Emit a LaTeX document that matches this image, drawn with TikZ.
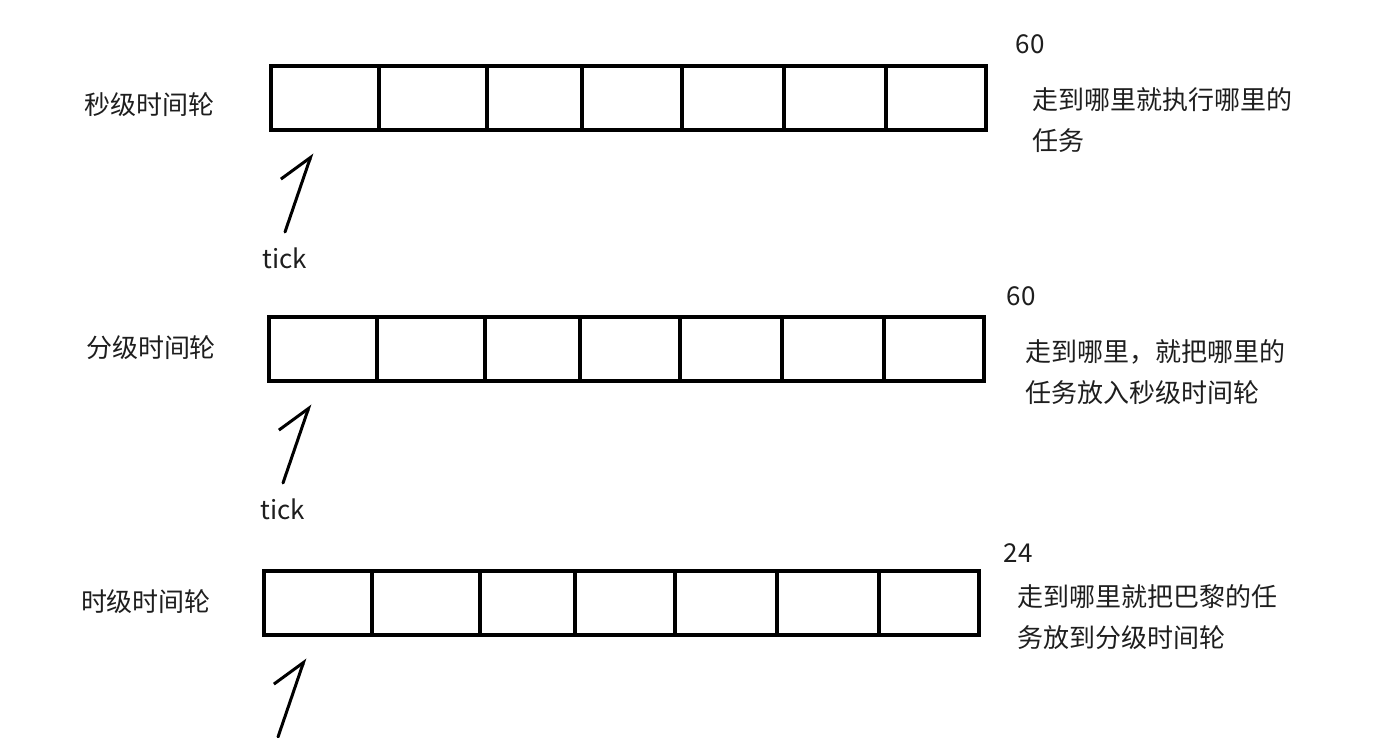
\documentclass[tikz,border=0pt]{standalone}
\usepackage{fontspec}
\setmainfont{Noto Sans CJK SC}
\usetikzlibrary{arrows.meta,positioning}
\definecolor{ink}{HTML}{1E1E1E}
\tikzset{
  cell/.style={draw, line width=1.6pt, inner sep=0pt, outer sep=0pt, minimum height=32pt},
  wheel/.style={font=\fontsize{13}{15}\selectfont, text=ink, inner sep=0pt},
  count/.style={font=\fontsize{13}{15}\selectfont, text=ink, inner sep=0pt},
  note/.style={font=\fontsize{13}{20.5}\selectfont, text=ink, align=left, anchor=west, inner sep=0pt},
  pointer/.style={line width=1.5pt, line cap=round,
    -{Straight Barb[harpoon, length=15pt, width=21pt]}},
}

\begin{document}
\begin{tikzpicture}[x=0.5pt, y=-0.5pt]
  \useasboundingbox (0,0) rectangle (1389,738);
  % the three wheels share their cell widths
  \foreach \r/\x/\y in {s/271/66, m/269/317, h/264/571}
    \foreach \i/\a/\b in {1/0/108, 2/108/216, 3/216/311, 4/311/411, 5/411/513, 6/513/615, 7/615/715}
      \node[cell, minimum width={(\b-\a)*0.5pt}, anchor=north west] (\r\i) at (\x+\a,\y) {};

  \node[wheel] (s-name) at (149,105) {秒级时间轮};
  \node[wheel] (m-name) at (151,348) {分级时间轮};
  \node[wheel] (h-name) at (146,602) {时级时间轮};

  \node[count] (s-size) at (1030,44) {60};
  \node[count] (m-size) at (1021,296) {60};
  \node[count] (h-size) at (1018,553) {24};

  \node[note] (s-note) at (1032,120) {走到哪里就执行哪里的\\任务};
  \node[note] (m-note) at (1025,372) {走到哪里，就把哪里的\\任务放入秒级时间轮};
  \node[note] (h-note) at (1017,617) {走到哪里就把巴黎的任\\务放到分级时间轮};

  \foreach \r in {s,m,h} {
    \coordinate (\r-tip) at ([shift={(-13,23)}]\r1.south);
    \coordinate (\r-tail) at ([shift={(-27,79)}]\r-tip);
    \draw[pointer] (\r-tail) -- (\r-tip);
  }
  \node[count] (s-tick) at ([yshift=-13pt]s-tail) {tick};
  \node[count] (m-tick) at ([yshift=-13pt]m-tail) {tick};
\end{tikzpicture}
\end{document}
